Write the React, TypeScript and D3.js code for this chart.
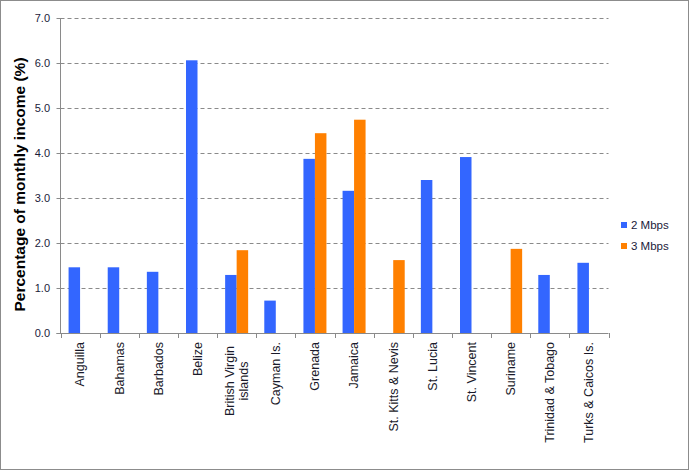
import React from "react";
import * as d3 from "d3";

const categories = [
  "Anguilla", "Bahamas", "Barbados", "Belize", "British Virgin islands", "Cayman Is.",
  "Grenada", "Jamaica", "St. Kitts & Nevis", "St. Lucia", "St. Vincent", "Suriname",
  "Trinidad & Tobago", "Turks & Caicos Is.",
];
const labelLines: string[][] = [
  ["Anguilla"], ["Bahamas"], ["Barbados"], ["Belize"], ["British Virgin", "islands"], ["Cayman Is."],
  ["Grenada"], ["Jamaica"], ["St. Kitts & Nevis"], ["St. Lucia"], ["St. Vincent"], ["Suriname"],
  ["Trinidad &  Tobago"], ["Turks & Caicos Is."],
];
const mbps2: (number | null)[] = [1.46, 1.46, 1.36, 6.06, 1.29, 0.72, 3.87, 3.16, null, 3.40, 3.91, null, 1.29, 1.56];
const mbps3: (number | null)[] = [null, null, null, null, 1.84, null, 4.44, 4.74, 1.62, null, null, 1.87, null, null];
const seriesNames = ["2 Mbps", "3 Mbps"];
const colors = ["#3366ff", "#ff8000"];
const yTicks = [0, 1, 2, 3, 4, 5, 6, 7];

export default function App() {
  const W = 689, H = 470;
  const left = 60.5, right = 608.5, top = 18, bottom = 333;
  const x = d3.scaleBand<string>().domain(categories).range([left, right]).paddingInner(0).paddingOuter(0);
  const y = d3.scaleLinear().domain([0, 7]).range([bottom, top]);
  const bw = 11.5;
  const font = "Arial, 'Liberation Sans', sans-serif";
  const series = [mbps2, mbps3];
  const labelFs = 12.5;

  return (
    <div style={{ position: "absolute", left: 0, top: 0 }}>
      <svg width={W} height={H} style={{ display: "block", background: "#fff" }} fontFamily={font}>
        <rect x={0.5} y={0.5} width={W - 1} height={H - 1} fill="#fff" stroke="#8c8c8c" />
        {yTicks.map((t) => (
          <g key={t}>
            {t > 0 && (
              <line x1={left} x2={right} y1={Math.round(y(t)) + 0.5} y2={Math.round(y(t)) + 0.5}
                stroke="#8a8a8a" strokeDasharray="4,3" />
            )}
            <line x1={left - 4} x2={left} y1={Math.round(y(t)) + 0.5} y2={Math.round(y(t)) + 0.5} stroke="#8a8a8a" />
            <text x={50} y={y(t)} dy="0.35em" textAnchor="end" fontSize={11} fill="#1a1a3a">{t.toFixed(1)}</text>
          </g>
        ))}
        {series.map((vals, si) =>
          vals.map((v, i) =>
            v == null ? null : (
              <rect key={si + "-" + i}
                x={(x(categories[i]) as number) + x.bandwidth() / 2 - bw + si * bw}
                y={y(v)} width={bw} height={bottom - y(v)} fill={colors[si]} />
            )
          )
        )}
        <line x1={left} x2={left} y1={top} y2={bottom} stroke="#8a8a8a" />
        <line x1={left - 4} x2={right} y1={bottom + 0.5} y2={bottom + 0.5} stroke="#8a8a8a" />
        {categories.map((c) => (
          <line key={c} x1={Math.round(x(c) as number) + 0.5} x2={Math.round(x(c) as number) + 0.5}
            y1={bottom} y2={bottom + 5} stroke="#8a8a8a" />
        ))}
        <line x1={Math.round(right) + 0.5} x2={Math.round(right) + 0.5} y1={bottom} y2={bottom + 5} stroke="#8a8a8a" />
        {categories.map((c, i) => {
          const cx = (x(c) as number) + x.bandwidth() / 2;
          const lines = labelLines[i];
          const n = lines.length;
          if (n === 1) {
            return (
              <text key={c} transform={`translate(${cx},${bottom + 9}) rotate(-90)`} textAnchor="end"
                dy="0.35em" fontSize={labelFs} fill="#1a1a2a">{lines[0]}</text>
            );
          }
          const half = 39;
          return (
            <text key={c} transform={`translate(${cx},${bottom + 9 + half}) rotate(-90)`} textAnchor="middle"
              fontSize={labelFs} fill="#1a1a2a">
              {lines.map((l, j) => (
                <tspan key={j} x={0} y={0} dy={`${(j - (n - 1) / 2) * 1.1 + 0.35}em`}>{l}</tspan>
              ))}
            </text>
          );
        })}
        <text transform={`translate(25,${(top + bottom) / 2 + 9}) rotate(-90)`} textAnchor="middle" fontSize={15.5}
          fontWeight="bold" fill="#000">Percentage of monthly income (%)</text>
        {seriesNames.map((s, i) => (
          <g key={s} transform={`translate(621,${225 + i * 21})`}>
            <rect x={0} y={-3} width={6} height={6} fill={colors[i]} />
            <text x={10} y={0} dy="0.35em" fontSize={11.5} fill="#1a1a3a">{s}</text>
          </g>
        ))}
      </svg>
    </div>
  );
}
